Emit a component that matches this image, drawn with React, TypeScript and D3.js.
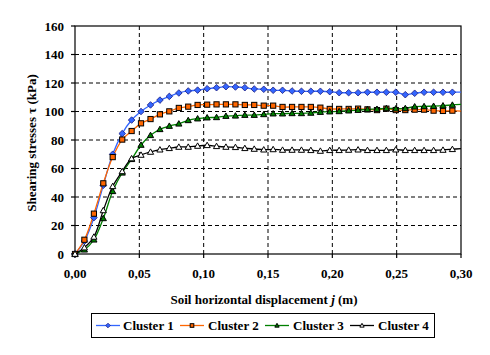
import React from "react";
import * as d3 from "d3";

const displacement = [
  0, 0.0073, 0.0147, 0.022, 0.0293, 0.0367, 0.044, 0.0513, 0.0587, 0.066,
  0.0733, 0.0807, 0.088, 0.0953, 0.1027, 0.11, 0.1173, 0.1247, 0.132, 0.1393,
  0.1467, 0.154, 0.1613, 0.1687, 0.176, 0.1833, 0.1907, 0.198, 0.2053, 0.2127,
  0.22, 0.2273, 0.2347, 0.242, 0.2493, 0.2567, 0.264, 0.2713, 0.2787, 0.286,
  0.2933,
];

const cluster1 = [
  0, 9, 25.5, 48.2, 70, 84.5, 94, 100, 104.6, 108, 110.6, 113, 114.4, 115, 116,
  116.7, 117.4, 117.2, 116.7, 115.8, 115.6, 114.9, 114.9, 114.4, 114.2, 114.2,
  114.2, 113.9, 113.2, 113.2, 113.2, 113.5, 113.5, 113.5, 113.5, 111.8, 112.8,
  113.5, 113.5, 113.5, 113.5,
];
const cluster2 = [
  0, 10, 28.3, 49.6, 68, 80.3, 86.3, 91.7, 94.7, 98, 100.1, 102.5, 103.4, 104.6,
  104.8, 105, 105, 105, 104.6, 104.6, 104.1, 104.1, 103.2, 103.2, 103.2, 103.2,
  102.7, 101.8, 101.8, 101.8, 102, 101.5, 101, 102, 101, 101, 101.3, 101.3,
  100.6, 100.4, 100.6,
];
const cluster3 = [
  0, 3, 10, 25, 44, 57, 66.5, 76.5, 83.3, 87.5, 89.8, 91.4, 93.8, 95, 95.7,
  95.9, 96.8, 97, 97.5, 97.5, 98, 98.5, 98.5, 98.7, 98.7, 99, 99.6, 99.9, 100.1,
  100.6, 101, 101.5, 101.7, 102.2, 102, 102.2, 103.4, 103.6, 103.8, 104.1,
  104.6,
];
const cluster4 = [
  0, 4.5, 12, 30.6, 47.5, 58, 67, 69.5, 71.6, 73.2, 74.2, 75.1, 75.1, 75.8,
  76.3, 75.6, 75.1, 74.9, 74.2, 73.7, 73.2, 73.4, 73, 73, 73, 72.8, 72.3, 72.8,
  72.8, 73, 73.2, 72.8, 72.8, 72.8, 73.2, 72.8, 72.8, 72.8, 72.8, 73, 73.5,
];
// value of each smooth line where it meets the right edge (x = 0.30)
const lineEndX = 0.3;
const lineEnd = [113.6, 100.3, 105, 74];

const seriesNames = ["Cluster 1", "Cluster 2", "Cluster 3", "Cluster 4"];
const seriesValues = [cluster1, cluster2, cluster3, cluster4];

const xTicks = [0, 0.05, 0.1, 0.15, 0.2, 0.25, 0.3];
const yTicks = [0, 20, 40, 60, 80, 100, 120, 140, 160];

const lineColors = ["#3366FF", "#FF6600", "#008000", "#000000"];
const markerFills = ["#3366FF", "#FF6600", "#008000", "#FFFFFF"];
const markerShapes = ["diamond", "square", "triangle", "triangle"];

const FONT = '"Liberation Serif", "Times New Roman", Times, serif';
const txt: React.CSSProperties = { fontFamily: FONT, fontWeight: 700, fontSize: "13px" };

function Marker({ shape, cx, cy, fill, s = 1 }: any) {
  if (shape === "diamond") {
    const r = 3.3 * s;
    return (
      <path
        d={`M${cx},${cy - r}L${cx + r},${cy}L${cx},${cy + r}L${cx - r},${cy}Z`}
        fill={fill}
        stroke="#1a1a80"
        strokeWidth={0.8}
      />
    );
  }
  if (shape === "square") {
    const r = 2.6 * s;
    return (
      <rect
        x={cx - r}
        y={cy - r}
        width={2 * r}
        height={2 * r}
        fill={fill}
        stroke="#000"
        strokeWidth={1}
      />
    );
  }
  const r = 3.1 * s;
  return (
    <path
      d={`M${cx},${cy - r}L${cx + r},${cy + r * 0.75}L${cx - r},${cy + r * 0.75}Z`}
      fill={fill}
      stroke="#000"
      strokeWidth={1}
    />
  );
}

export default function App() {
  const W = 490;
  const H = 355;
  const x0 = 75;
  const x1 = 461;
  const y0 = 254;
  const y1 = 26;
  const x = d3.scaleLinear().domain([0, 0.3]).range([x0, x1]);
  const y = d3.scaleLinear().domain([0, 160]).range([y0, y1]);

  const line = d3
    .line<[number, number]>()
    .x((d) => x(d[0]))
    .y((d) => y(d[1]))
    .curve(d3.curveCatmullRom.alpha(0.5));

  const fmt = (v: number) => v.toFixed(2).replace(".", ",");

  const legendItems = [
    { lx: 96, tx: 123 },
    { lx: 180, tx: 208 },
    { lx: 265, tx: 293 },
    { lx: 350, tx: 378 },
  ];

  return (
    <svg
      width={W}
      height={H}
      style={{ position: "absolute", left: 0, top: 0, background: "#fff" }}
    >
      <rect x={0} y={0} width={W} height={H} fill="#fff" />
      {/* gridlines */}
      {yTicks
        .filter((t) => t > 0 && t < 160)
        .map((t) => (
          <line
            key={"gy" + t}
            x1={x0}
            x2={x1}
            y1={y(t)}
            y2={y(t)}
            stroke="#000"
            strokeWidth={1}
            strokeDasharray="4,3"
          />
        ))}
      {xTicks
        .filter((t) => t > 0 && t < 0.3)
        .map((t) => (
          <line
            key={"gx" + t}
            x1={x(t)}
            x2={x(t)}
            y1={y0}
            y2={y1}
            stroke="#000"
            strokeWidth={1}
            strokeDasharray="4,3"
          />
        ))}
      {/* plot border */}
      <rect
        x={x0}
        y={y1}
        width={x1 - x0}
        height={y0 - y1}
        fill="none"
        stroke="#000"
        strokeWidth={1.2}
      />
      {/* ticks */}
      {yTicks.map((t) => (
        <g key={"ty" + t}>
          <line x1={x0 - 4} x2={x0} y1={y(t)} y2={y(t)} stroke="#000" strokeWidth={1.2} />
          <text x={x0 - 11} y={y(t)} dy="0.35em" textAnchor="end" style={txt}>
            {t}
          </text>
        </g>
      ))}
      {xTicks.map((t) => (
        <g key={"tx" + t}>
          <line x1={x(t)} x2={x(t)} y1={y0} y2={y0 + 4} stroke="#000" strokeWidth={1.2} />
          <text x={x(t)} y={y0 + 24} textAnchor="middle" style={txt}>
            {fmt(t)}
          </text>
        </g>
      ))}
      {/* series */}
      {seriesValues.map((vals, i) => {
        const pts: [number, number][] = displacement.map((d, k) => [d, vals[k]]);
        pts.push([lineEndX, lineEnd[i]]);
        return (
          <path
            key={"l" + i}
            d={line(pts) || ""}
            fill="none"
            stroke={lineColors[i]}
            strokeWidth={1.3}
          />
        );
      })}
      {seriesValues.map((vals, i) => (
        <g key={"m" + i}>
          {displacement.map((d, k) => (
            <Marker
              key={k}
              shape={markerShapes[i]}
              cx={x(d)}
              cy={y(vals[k])}
              fill={markerFills[i]}
            />
          ))}
        </g>
      ))}
      {/* axis titles */}
      <text
        transform={`translate(36,${(y0 + y1) / 2 + 3}) rotate(-90)`}
        textAnchor="middle"
        style={txt}
      >
        Shearing stresses  τ  (kPa)
      </text>
      <text x={264} y={304} textAnchor="middle" style={txt}>
        Soil horizontal displacement <tspan fontStyle="italic">j</tspan>  (m)
      </text>
      {/* legend */}
      <rect x={91.5} y={313.5} width={343} height={24} fill="#fff" stroke="#000" strokeWidth={1} />
      {legendItems.map((it, i) => (
        <g key={"lg" + i}>
          <line
            x1={it.lx}
            x2={it.lx + 24}
            y1={325.5}
            y2={325.5}
            stroke={lineColors[i]}
            strokeWidth={1.3}
          />
          <Marker
            shape={markerShapes[i]}
            cx={it.lx + 12}
            cy={325.5}
            fill={markerFills[i]}
            s={0.7}
          />
          <text x={it.tx} y={330} style={txt}>
            {seriesNames[i]}
          </text>
        </g>
      ))}
    </svg>
  );
}
